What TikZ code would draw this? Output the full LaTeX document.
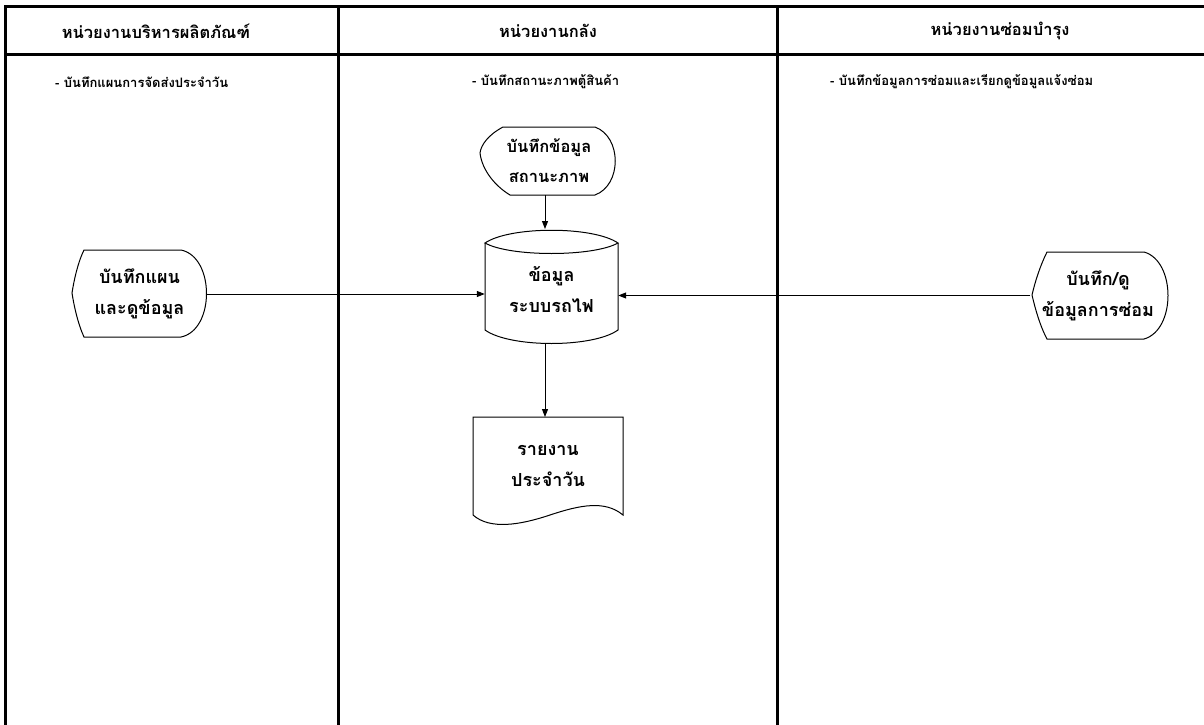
\documentclass[tikz,border=0pt]{standalone}
\usepackage{fontspec}
\newfontfamily\thai[Script=Thai]{Loma}
\usetikzlibrary{arrows.meta}
\tikzset{
  frame/.style={line width=3pt, line cap=rect},
  shapeline/.style={line width=1pt},
  conn/.style={line width=1pt, -{Triangle[length=8pt,width=6pt]}},
  hdr/.style={font=\thai\bfseries\fontsize{16.5}{18}\selectfont, inner sep=0pt},
  sub/.style={font=\thai\bfseries\fontsize{13}{15}\selectfont, inner sep=0pt, anchor=west},
  lbl/.style={font=\thai\bfseries\fontsize{18}{31}\selectfont, align=center, inner sep=0pt, minimum width=#1},
}
\begin{document}
\begin{tikzpicture}[x=1pt,y=-1pt]
\useasboundingbox (0,0) rectangle (1204,725);
\fill[white] (0,0) rectangle (1204,725);
% frame
\draw[frame] (5,730) -- (5,7) -- (1210,7);
\draw[frame] (5,55) -- (1210,55);
\draw[frame] (338,7) -- (338,730);
\draw[frame] (777,7) -- (777,730);
% headers
\node[hdr] (h1) at (156,31) {หน่วยงานบริหารผลิตภัณฑ์};
\node[hdr] (h2) at (548,31) {หน่วยงานกลัง};
\node[hdr] (h3) at (1000,31) {หน่วยงานซ่อมบำรุง};
\node[sub] (s1) at (55,82) {- บันทึกแผนการจัดส่งประจำวัน};
\node[sub] (s2) at (472,82) {- บันทึกสถานะภาพตู้สินค้า};
\node[sub] (s3) at (830,82) {- บันทึกข้อมูลการซ่อมและเรียกดูข้อมูลแจ้งซ่อม};
% left display
\draw[shapeline] (181,250) -- (84,250) .. controls (78,262) and (74,280) .. (72,293)
  .. controls (74,306) and (78,324) .. (84,337) -- (181,337)
  .. controls (215,330) and (215,257) .. (181,250) -- cycle;
\node[lbl=135pt, minimum height=88pt] (lft) at (139.5,294) {บันทึกแผน\\และดูข้อมูล};
% top display
\draw[shapeline] (595,127) -- (503,127) .. controls (488,135) and (481,145) .. (480,153)
  .. controls (482,170) and (495,186) .. (510,195) -- (595,195)
  .. controls (622,185) and (622,137) .. (595,127) -- cycle;
\node[lbl=137pt, minimum height=68pt, font=\thai\bfseries\fontsize{16.5}{30}\selectfont] (top) at (549,161) {บันทึกข้อมูล\\สถานะภาพ};
% right display
\draw[shapeline] (1144,252) -- (1047,252) .. controls (1040,266) and (1035,282) .. (1032,295)
  .. controls (1035,308) and (1040,326) .. (1047,339) -- (1144,339)
  .. controls (1176,330) and (1176,261) .. (1144,252) -- cycle;
\node[lbl=135pt, minimum height=87pt] (rgt) at (1098,295.5) {บันทึก/ดู\\ข้อมูลการซ่อม};
% cylinder
\draw[shapeline] (485,243) .. controls (510,226) and (593,226) .. (618,243)
  .. controls (593,257) and (510,257) .. (485,243) -- cycle;
\draw[shapeline] (485,243) -- (485,330) .. controls (510,348) and (593,348) .. (618,330) -- (618,243);
\node[lbl=133pt, minimum height=115pt] (db) at (551.5,290) {ข้อมูล\\ระบบรถไฟ};
% document
\draw[shapeline] (473,417) -- (623,417) -- (623,515)
  .. controls (605,500) and (580,505) .. (550,515)
  .. controls (520,525) and (490,530) .. (473,515) -- cycle;
\node[lbl=150pt, minimum height=98pt] (doc) at (548,466) {รายงาน\\ประจำวัน};
% connector end points
\coordinate (topout) at (545,195);
\coordinate (dbin) at (545,229);
\coordinate (dbout) at (545,343);
\coordinate (docin) at (545,417);
% connectors
\draw[conn] (topout) -- (dbin);
\draw[conn] (lft.east) -- (db.west |- lft.east);
\draw[conn] (rgt.west) -- (db.east |- rgt.west);
\draw[conn] (dbout) -- (docin);
\end{tikzpicture}
\end{document}
